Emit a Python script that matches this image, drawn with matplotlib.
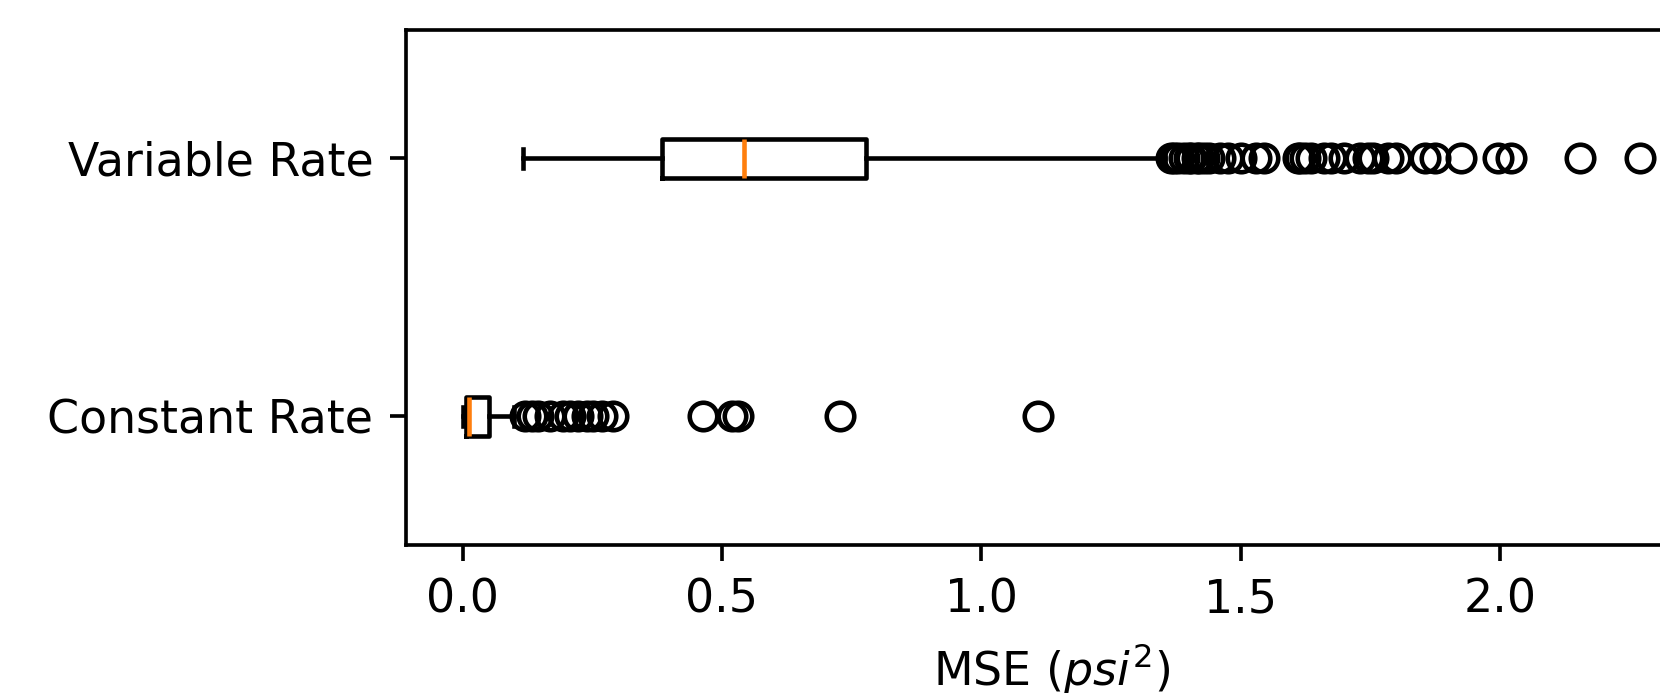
import matplotlib
matplotlib.use('Agg')
import matplotlib.pyplot as plt

DPI = 330

labels = ['Constant Rate', 'Variable Rate']

# box statistics
whislo = [0.001, 0.116]
q1 = [0.006, 0.384]
med = [0.013, 0.543]
q3 = [0.051, 0.778]
whishi = [0.099, 1.355]

constant_fliers = [0.120, 0.133, 0.146, 0.169, 0.194, 0.207, 0.223, 0.239,
                   0.252, 0.268, 0.290, 0.464, 0.519, 0.531, 0.727, 1.110]
variable_fliers = [1.366, 1.372, 1.380, 1.390, 1.400, 1.405, 1.415, 1.420,
                   1.430, 1.440, 1.460, 1.475, 1.500, 1.530, 1.545, 1.610,
                   1.615, 1.625, 1.635, 1.660, 1.675, 1.700, 1.730, 1.745,
                   1.755, 1.785, 1.800, 1.855, 1.875, 1.925, 1.996, 2.022,
                   2.154, 2.270]
fliers = [constant_fliers, variable_fliers]


def main():
    stats = []
    for i in range(len(labels)):
        stats.append(dict(label=labels[i], whislo=whislo[i], q1=q1[i],
                          med=med[i], q3=q3[i], whishi=whishi[i],
                          fliers=fliers[i]))

    fig = plt.figure(figsize=(1660 / DPI, 693 / DPI), dpi=DPI)
    ax = fig.add_axes([0.2443, 0.2133, 0.778, 0.744])
    ax.bxp(stats, orientation='horizontal')
    ax.set_xlim(-0.11, 2.38)
    ax.set_xlabel('MSE ($psi^2$)')
    fig.savefig('out.png', dpi=DPI)
    plt.close(fig)


if __name__ == '__main__':
    main()
